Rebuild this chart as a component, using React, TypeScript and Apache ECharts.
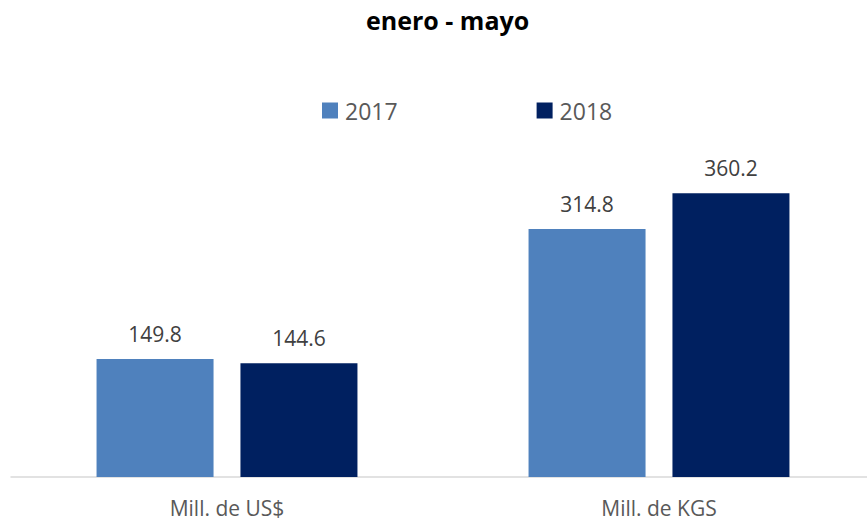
import React, { useEffect, useRef } from "react";
import * as echarts from "echarts";

const categories = ["Mill. de US$", "Mill. de KGS"];
const seriesNames = ["2017", "2018"];
const values2017 = [149.8, 314.8];
const values2018 = [144.6, 360.2];
const colors = ["#4F81BD", "#002060"];
const titleText = "enero - mayo";
const FONT = "'Open Sans', 'Noto Sans', sans-serif";

export default function App() {
  const ref = useRef<HTMLDivElement>(null);
  useEffect(() => {
    if (!ref.current) return;
    const chart = echarts.init(ref.current, undefined, { renderer: "svg" });
    const label = {
      show: true,
      position: "top" as const,
      distance: 15,
      color: "#404040",
      fontSize: 21,
      fontFamily: FONT,
      formatter: (p: any) => Number(p.value).toFixed(1),
    };
    chart.setOption({
      animation: false,
      backgroundColor: "#ffffff",
      title: {
        text: titleText,
        left: 361,
        top: 2,
        textStyle: { fontSize: 25, fontWeight: "bold", color: "#000000", fontFamily: FONT },
      },
      legend: {
        left: 322,
        top: 99,
        padding: 0,
        itemWidth: 16,
        itemHeight: 16,
        itemGap: 139,
        icon: "rect",
        textStyle: { fontSize: 23, color: "#595959", fontFamily: FONT, padding: [0, 0, 0, 2] },
        data: seriesNames,
      },
      grid: { left: 11, top: 162, width: 864, height: 315, outerBoundsMode: "none", containLabel: false },
      xAxis: {
        type: "category",
        data: categories,
        axisLine: { lineStyle: { color: "#d9d9d9", width: 1.5 } },
        axisTick: { show: false },
        axisLabel: { color: "#595959", fontSize: 21, fontFamily: FONT, margin: 20 },
      },
      yAxis: {
        type: "value",
        min: 0,
        max: 400,
        show: false,
        splitLine: { show: false },
      },
      series: [
        {
          name: seriesNames[0],
          type: "bar",
          data: values2017,
          barWidth: 117,
          barGap: "23%",
          itemStyle: { color: colors[0] },
          label,
        },
        {
          name: seriesNames[1],
          type: "bar",
          data: values2018,
          barWidth: 117,
          barGap: "23%",
          itemStyle: { color: colors[1] },
          label,
        },
      ],
    });
    return () => chart.dispose();
  }, []);
  return (
    <div
      ref={ref}
      style={{ position: "fixed", left: 0, top: 0, width: 867, height: 521, background: "#fff" }}
    />
  );
}
